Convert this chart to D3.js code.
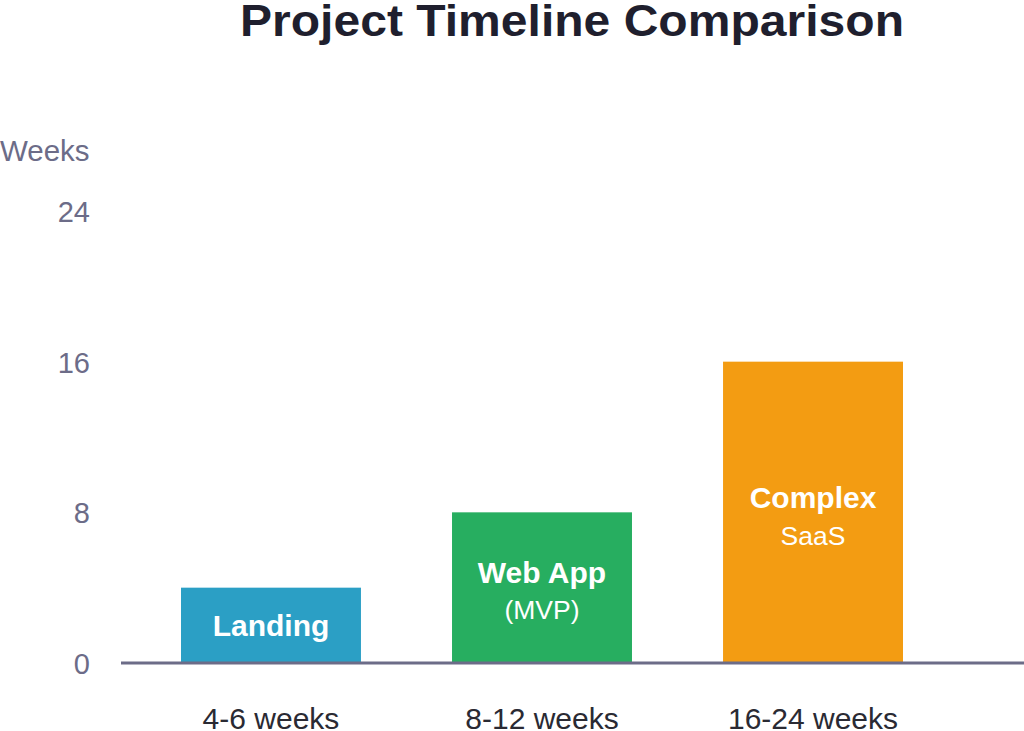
<!DOCTYPE html>
<html><head><meta charset="utf-8">
<script src="https://cdn.jsdelivr.net/npm/d3@7"></script>
<style>body{margin:0;background:#fff}svg{display:block}</style>
</head><body>
<script>
const categories = ["Landing", "Web App", "Complex"];
const subLabels = ["", "(MVP)", "SaaS"];
const values = [4, 8, 16];
const rangeLabels = ["4-6 weeks", "8-12 weeks", "16-24 weeks"];
const tickValues = [0, 8, 16, 24];
const colors = ["#2b9fc5", "#27ae60", "#f39c12"];

const W = 1024, H = 731;
const svg = d3.select("body").append("svg").attr("width", W).attr("height", H);
const font = "'Liberation Sans', Arial, sans-serif";

const y = d3.scaleLinear().domain([0, 24]).range([663, 211]);
const x = d3.scaleBand().domain(categories).range([181, 903]).paddingInner(0.336).paddingOuter(0);

svg.append("text").attr("x", 572).attr("y", 36).attr("text-anchor", "middle")
  .attr("font-family", font).attr("font-weight", "bold").attr("font-size", 45)
  .attr("textLength", 664).attr("lengthAdjust", "spacingAndGlyphs")
  .attr("fill", "#1f1f2e").text("Project Timeline Comparison");

svg.append("text").attr("x", 0).attr("y", 161).attr("font-family", font)
  .attr("font-size", 29.5).attr("fill", "#6c6c88").text("Weeks");

const yAxis = svg.append("g").attr("transform", "translate(90,0)")
  .call(d3.axisLeft(y).tickValues(tickValues).tickSize(0).tickPadding(0));
yAxis.select(".domain").remove();
yAxis.selectAll("text").attr("font-family", font).attr("font-size", 29)
  .attr("fill", "#6c6c88").attr("dy", "0.36em");

svg.selectAll("rect.bar").data(values).join("rect").attr("class", "bar")
  .attr("x", (d, i) => x(categories[i])).attr("width", x.bandwidth())
  .attr("y", d => y(d)).attr("height", d => y(0) - y(d))
  .attr("fill", (d, i) => colors[i]);

svg.append("line").attr("x1", 121).attr("x2", 1024).attr("y1", y(0)).attr("y2", y(0))
  .attr("stroke", "#6c6c88").attr("stroke-width", 3);

const mainY = [636, 583, 508];
const subY = [null, 619, 545];
categories.forEach((c, i) => {
  const cx = x(c) + x.bandwidth() / 2;
  svg.append("text").attr("x", cx).attr("y", mainY[i]).attr("text-anchor", "middle")
    .attr("font-family", font).attr("font-weight", "bold").attr("font-size", 30)
    .attr("fill", "#fff").text(c);
  if (subLabels[i]) svg.append("text").attr("x", cx).attr("y", subY[i]).attr("text-anchor", "middle")
    .attr("font-family", font).attr("font-size", 26.5).attr("fill", "#fff").text(subLabels[i]);
  svg.append("text").attr("x", cx).attr("y", 729).attr("text-anchor", "middle")
    .attr("font-family", font).attr("font-size", 30).attr("fill", "#2a2a33").text(rangeLabels[i]);
});
</script>
</body></html>
